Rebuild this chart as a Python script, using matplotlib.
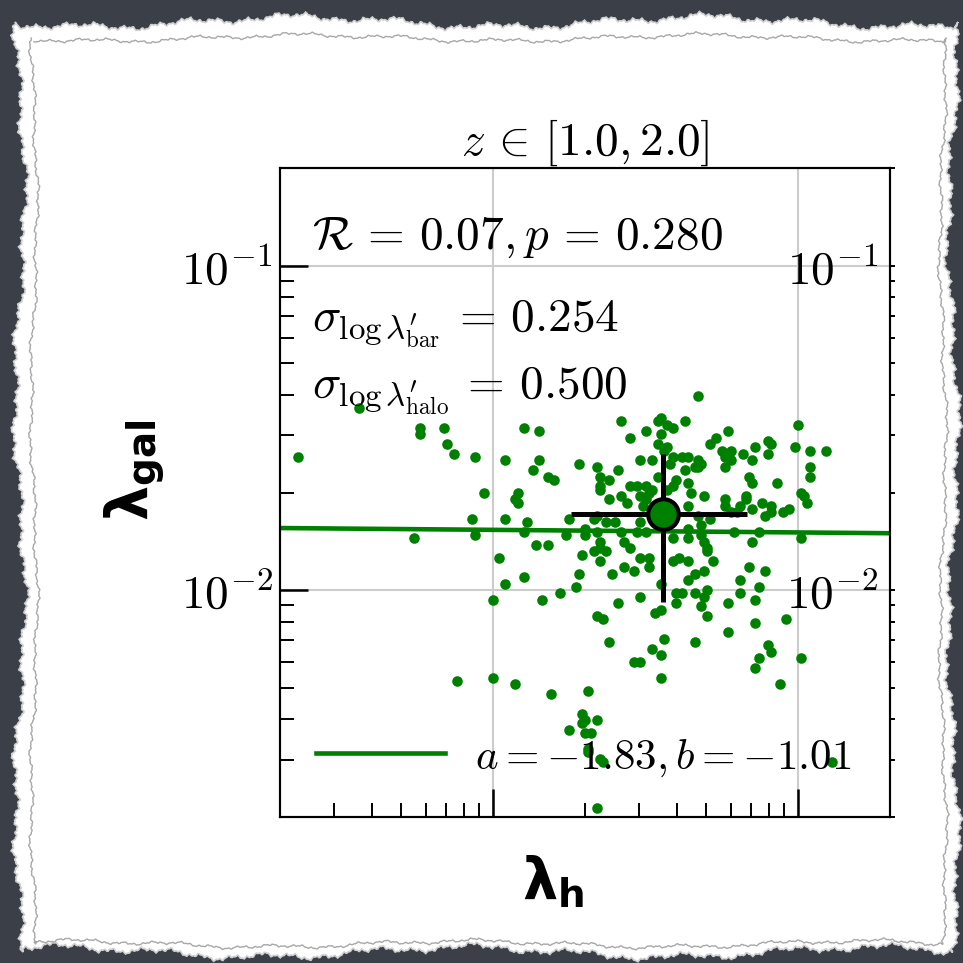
import numpy as np
import matplotlib
matplotlib.use('Agg')
import matplotlib.pyplot as plt
from matplotlib import ticker, transforms
from matplotlib.patches import Polygon
from matplotlib.lines import Line2D

plt.rcParams['mathtext.fontset'] = 'cm'
plt.rcParams['font.family'] = 'DejaVu Sans'

# log10(lambda_h) and log10(lambda_gal) of each galaxy
lam_h_log = [
    -2.64, -2.44, -2.24, -2.24, -2.16, -2.15, -2.13, -2.06, -2.03, -2.26,
    -2.07, -2.06, -2.12, -2.00, -1.93, -1.96, -1.90, -1.85, -1.85, -1.87,
    -1.82, -1.80, -1.92, -1.93, -1.92, -1.96, -1.89, -1.90, -1.86, -1.82,
    -1.98, -1.90, -1.96, -2.00, -1.84, -1.78, -1.73, -1.81, -1.69, -1.71,
    -1.75, -1.71, -1.70, -1.66, -1.70, -1.68, -1.69, -1.69, -1.65, -1.64,
    -1.66, -0.89, -1.72, -1.33, -1.58, -1.50, -1.55, -1.45, -1.46, -1.43,
    -1.41, -1.45, -1.46, -1.43, -1.44, -1.37, -1.23, -1.27, -1.29, -1.00,
    -1.01, -0.96, -0.91, -1.25, -1.22, -1.24, -1.22, -1.24, -1.18, -1.15,
    -1.14, -1.10, -1.09, -1.10, -0.96, -0.96, -1.07, -1.16, -1.15, -1.17,
    -1.17, -1.32, -1.31, -1.24, -1.24, -1.19, -1.15, -1.12, -1.09, -1.09,
    -1.11, -1.05, -1.03, -0.99, -0.98, -0.97, -1.29, -1.32, -1.21, -1.13,
    -0.99, -1.15, -1.31, -1.22, -1.20, -1.66, -1.65, -1.65, -1.65, -1.59,
    -1.62, -1.52, -1.48, -1.46, -1.41, -1.38, -1.36, -1.33, -1.33, -1.37,
    -1.34, -1.40, -1.36, -1.41, -1.43, -1.55, -1.53, -1.50, -1.48, -1.58,
    -1.56, -1.51, -1.50, -1.35, -1.62, -1.36, -1.66, -1.60, -1.63, -1.52,
    -1.33, -1.70, -1.76, -1.70, -1.66, -1.58, -1.53, -1.50, -1.36, -1.36,
    -1.32, -1.41, -1.75, -1.67, -1.71, -1.67, -1.65, -1.63, -1.65, -1.65,
    -1.57, -1.55, -1.52, -1.49, -1.49, -1.72, -1.61, -1.57, -1.54, -1.41,
    -1.39, -1.36, -1.30, -1.30, -1.28, -1.31, -1.34, -1.36, -1.45, -1.16,
    -1.11, -1.19, -1.13, -1.40, -1.38, -1.34, -1.31, -1.30, -1.40, -1.23,
    -1.14, -1.19, -1.52, -1.59, -1.45, -1.47, -1.32, -1.30, -1.66, -1.64,
    -1.14, -1.04, -1.23, -1.62, -1.44, -1.34, -1.10, -1.48, -1.45, -1.54,
    -1.52, -1.13, -1.14, -0.99, -1.45, -1.06, -1.09, -1.42, -1.49, -1.52,
]
lam_gal_log = [
    -1.59, -1.44, -1.50, -1.52, -1.50, -1.55, -1.58, -1.59, -1.70, -1.84,
    -1.78, -1.83, -2.28, -2.27, -2.29, -1.60, -1.50, -1.51, -1.60, -1.63,
    -1.65, -1.66, -1.70, -1.72, -1.73, -1.78, -1.79, -1.82, -1.86, -1.86,
    -1.90, -1.96, -1.98, -2.03, -2.03, -2.01, -1.99, -2.32, -2.31, -2.38,
    -2.43, -2.41, -2.40, -2.40, -2.44, -2.44, -2.49, -2.50, -2.52, -2.53,
    -2.67, -2.53, -1.61, -1.40, -1.48, -1.51, -1.53, -1.47, -1.48, -1.49,
    -1.50, -1.52, -1.55, -1.56, -1.57, -1.48, -1.51, -1.53, -1.55, -1.49,
    -1.56, -1.57, -1.57, -1.57, -1.57, -1.59, -1.60, -1.62, -1.58, -1.60,
    -1.56, -1.54, -1.55, -1.58, -1.62, -1.65, -1.67, -1.65, -1.67, -1.71,
    -1.72, -1.61, -1.71, -1.72, -1.74, -1.74, -1.75, -1.73, -1.74, -1.76,
    -1.77, -1.76, -1.75, -1.70, -1.71, -1.73, -1.78, -1.80, -1.82, -1.82,
    -1.84, -1.85, -1.85, -1.76, -1.76, -1.62, -1.65, -1.68, -1.69, -1.63,
    -1.66, -1.60, -1.60, -1.65, -1.59, -1.59, -1.59, -1.60, -1.62, -1.63,
    -1.62, -1.66, -1.67, -1.68, -1.69, -1.68, -1.68, -1.68, -1.69, -1.71,
    -1.73, -1.74, -1.72, -1.70, -1.72, -1.74, -1.77, -1.79, -1.79, -1.79,
    -1.77, -1.81, -1.83, -1.83, -1.82, -1.82, -1.82, -1.82, -1.81, -1.84,
    -1.83, -1.84, -1.78, -1.78, -1.89, -1.88, -1.87, -1.88, -1.85, -1.91,
    -1.85, -1.87, -1.90, -1.90, -1.93, -1.95, -1.95, -1.93, -1.94, -1.91,
    -1.90, -1.91, -1.88, -1.87, -1.91, -1.94, -1.95, -1.97, -1.98, -1.93,
    -1.94, -1.97, -1.99, -2.01, -2.01, -2.01, -2.02, -2.00, -2.04, -2.04,
    -2.03, -2.01, -2.02, -2.04, -2.06, -2.07, -2.05, -2.08, -2.08, -2.09,
    -2.10, -2.09, -2.13, -2.16, -2.15, -2.16, -2.17, -2.18, -2.20, -2.22,
    -2.22, -2.21, -2.24, -2.21, -2.27, -2.29, -2.19, -1.61, -1.70, -1.71,
]

# median point and its spread
mean_h = 0.0360
mean_gal = 0.0172
mean_h_err = [0.018, 0.032]   # lower, upper
mean_gal_err = [0.008, 0.009]

# fit in log space
fit_a = -1.83
fit_slope = -0.008
fit_label = r'$a = -1.83, b = -1.01$'

title = r'$z \,\in\, [1.0, 2.0]$'
stat_lines = [r'$\mathcal{R} \,=\, 0.07, p \,=\, 0.280$',
              r'$\sigma_{\log\lambda^{\prime}_{\rm bar}} \,=\, 0.254$',
              r'$\sigma_{\log\lambda^{\prime}_{\rm halo}} \,=\, 0.500$']
y_ticks = [1e-2, 1e-1]

fig = plt.figure(figsize=(9.63, 9.63), dpi=100)
fig.set_facecolor('#3a3f48')

# torn paper frame behind the plot
W = 963.0
t = np.linspace(0, 1, 700)


def wob(t, p, amp=1.0):
    return amp * (5.0 * np.sin(2 * np.pi * 2.3 * t + p)
                  + 2.5 * np.sin(2 * np.pi * 9 * t + 2.1 * p)
                  + 1.6 * np.sin(2 * np.pi * 31 * t + 3.3 * p)
                  + 1.1 * np.sin(2 * np.pi * 97 * t + 0.7 * p)
                  + 0.7 * np.sin(2 * np.pi * 211 * t + 1.9 * p))


def frame(x0, x1, y0, y1, p, amp):
    tx = x0 + t * (x1 - x0)
    ty = y0 + t * (y1 - y0)
    xs = np.concatenate([tx, x1 + wob(t, p + 1, amp), tx[::-1], x0 + wob(t, p + 2, amp)])
    ys = np.concatenate([y0 + wob(t, p, amp), ty, y1 + wob(t, p + 3, amp), ty[::-1]])
    return np.column_stack([xs / W, 1 - ys / W])


paper = Polygon(frame(20, 953, 22, 952, 0.4, 1.0), closed=True, transform=fig.transFigure,
                facecolor='white', edgecolor='#d0d0d0', lw=1.2, zorder=-3)
fig.patches.append(paper)
inner = frame(34, 943, 38, 944, 0.4, 0.6)
fig.lines.append(Line2D(inner[:, 0], inner[:, 1], transform=fig.transFigure,
                        color='#a8a8a8', lw=1.0, zorder=-2))

ax = fig.add_axes([0.2908, 0.1516, 0.6334, 0.6739])
ax.set_xscale('log')
ax.set_yscale('log')
ax.set_xlim(0.002, 0.2)
ax.set_ylim(0.002, 0.2)
ax.grid(True, which='major', color='#cccccc', lw=1.5)
ax.set_axisbelow(True)

xs = np.array(ax.get_xlim())
ax.plot(xs, 10 ** (fit_a + fit_slope * np.log10(xs)), color='green', lw=3.3,
        label=fit_label, zorder=1.5)
ax.scatter(10 ** np.array(lam_h_log), 10 ** np.array(lam_gal_log), s=58, c='green',
           linewidths=0, zorder=2)
ax.errorbar([mean_h], [mean_gal], xerr=[[mean_h_err[0]], [mean_h_err[1]]],
            yerr=[[mean_gal_err[0]], [mean_gal_err[1]]], fmt='o', ms=22, mfc='green',
            mec='black', mew=3, ecolor='black', elinewidth=3.6, capsize=0, zorder=4)

for s, yy in zip(stat_lines, [0.875, 0.749, 0.646]):
    ax.text(0.052, yy, s, transform=ax.transAxes, fontsize=34, va='baseline')

ax.legend(loc='center left', bbox_to_anchor=(0.059, 0.0925), frameon=False, fontsize=31,
          handlelength=3.0, handletextpad=0.7, borderpad=0, borderaxespad=0)

ax.set_title(title, fontsize=34, pad=4)

for sp in ax.spines.values():
    sp.set_linewidth(1.5)
ax.tick_params(which='both', direction='in', top=False, right=False, labelbottom=False)
ax.tick_params(which='major', length=20, width=1.8, pad=5.5, labelsize=34)
ax.tick_params(which='minor', length=10, width=1.4)
ax.yaxis.set_major_formatter(ticker.FuncFormatter(lambda v, p: r'$10^{%d}$' % round(np.log10(v))))
ax.yaxis.set_minor_formatter(ticker.NullFormatter())

ax2 = ax.twinx()
ax2.set_yscale('log')
ax2.set_ylim(0.002, 0.2)
ax2.tick_params(which='both', direction='out', length=3.5, width=1.4, labelright=False)
ax2.yaxis.set_minor_formatter(ticker.NullFormatter())
for sp in ax2.spines.values():
    sp.set_linewidth(1.5)

trans = transforms.blended_transform_factory(ax.transAxes, ax.transData)
for v in y_ticks:
    ax.text(0.98, v, r'$10^{%d}$' % round(np.log10(v)), transform=trans, ha='right',
            va='center_baseline', fontsize=34)

ax.set_xlabel(r'$\mathbf{\lambda_{h}}$', fontsize=40, math_fontfamily='dejavusans')
ax.set_ylabel(r'$\mathbf{\lambda_{gal}}$', fontsize=40, math_fontfamily='dejavusans')
ax.xaxis.set_label_coords(0.4475, -0.057)
ax.yaxis.set_label_coords(-0.187, 0.535)

fig.savefig('out.png', dpi=100, facecolor=fig.get_facecolor())
